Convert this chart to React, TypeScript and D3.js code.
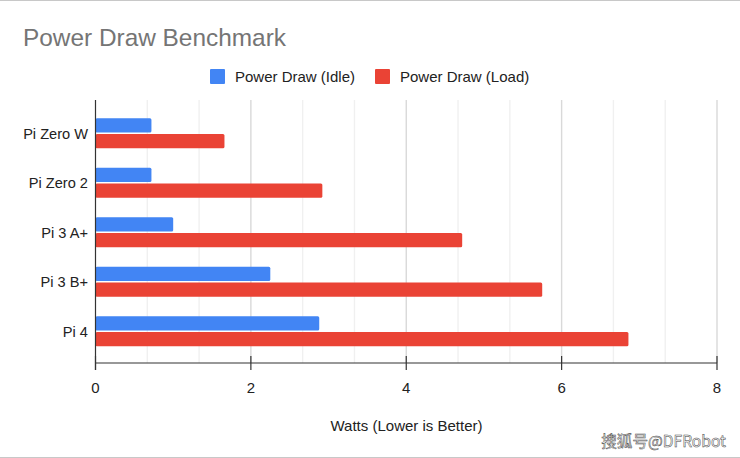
import React from "react";
import * as d3 from "d3";

const categories = ["Pi Zero W", "Pi Zero 2", "Pi 3 A+", "Pi 3 B+", "Pi 4"];
const seriesNames = ["Power Draw (Idle)", "Power Draw (Load)"];
const idle = [0.72, 0.72, 1.0, 2.25, 2.88];
const load = [1.66, 2.92, 4.72, 5.75, 6.86];
const colors = ["#4285f4", "#ea4335"];
const majorTicks = [0, 2, 4, 6, 8];
const gridTicks = [2 / 3, 4 / 3, 2, 8 / 3, 10 / 3, 4, 14 / 3, 16 / 3, 6, 20 / 3, 22 / 3, 8];
const font = "'Liberation Sans', Arial, sans-serif";

export default function App() {
  const x = d3.scaleLinear().domain([0, 8]).range([95.5, 717]);
  const y = d3.scaleBand<string>().domain(categories).range([108.5, 356]);
  const inner = d3.scaleBand<string>().domain(seriesNames).range([y.bandwidth() * 0.195, y.bandwidth() * 0.805]).paddingInner(0.1);
  const series = [idle, load];
  const top = 100;
  const base = 363;
  return (
    <svg width={740} height={458} style={{ position: "fixed", left: 0, top: 0, display: "block", background: "#fff" }} fontFamily={font}>
      <rect x={0} y={0} width={740} height={458} fill="#fff" />
      <line x1={0} x2={740} y1={0.5} y2={0.5} stroke="#c8c8c8" />
      <line x1={0} x2={740} y1={457.5} y2={457.5} stroke="#c8c8c8" />
      <text x={23} y={46} fontSize={24.4} fill="#757575">Power Draw Benchmark</text>

      {seriesNames.map((n, i) => {
        const lx = [210, 375][i];
        return (
          <g key={n}>
            <rect x={lx} y={69} width={15} height={15} rx={1} fill={colors[i]} />
            <text x={lx + 25} y={81.5} fontSize={15} fill="#222">{n}</text>
          </g>
        );
      })}

      {gridTicks.map((t, i) => (
        <line key={i} x1={x(t)} x2={x(t)} y1={top} y2={base} stroke={majorTicks.includes(t) ? "#d9d9d9" : "#f0f0f0"} strokeWidth={1.4} />
      ))}

      {categories.map((c, ci) => (
        <g key={c}>
          {seriesNames.map((n, si) => (
            <rect key={n} x={x(0)} y={y(c)! + inner(n)!} width={x(series[si][ci]) - x(0)} height={inner.bandwidth()} rx={1.5} fill={colors[si]} />
          ))}
          <text x={88} y={y(c)! + y.bandwidth() / 2 + 5.5} textAnchor="end" fontSize={14.6} fill="#222">{c}</text>
        </g>
      ))}

      <line x1={x(0)} x2={x(0)} y1={top} y2={370} stroke="#333" strokeWidth={1.2} />
      <line x1={x(0)} x2={x(8)} y1={base} y2={base} stroke="#333" strokeWidth={1.2} />
      {majorTicks.map((t) => (
        <g key={t}>
          <line x1={x(t)} x2={x(t)} y1={356} y2={370} stroke="#333" strokeWidth={1.2} />
          <text x={x(t)} y={392.5} textAnchor="middle" fontSize={15} fill="#222">{t}</text>
        </g>
      ))}
      <text x={406.5} y={431} textAnchor="middle" fontSize={15} fill="#222">Watts (Lower is Better)</text>
      <text x={726} y={447} textAnchor="end" fontSize={15.6} fill="#fff" stroke="#444" strokeWidth={0.5} fontFamily="'Noto Sans CJK SC', sans-serif">搜狐号@DFRobot</text>
    </svg>
  );
}
